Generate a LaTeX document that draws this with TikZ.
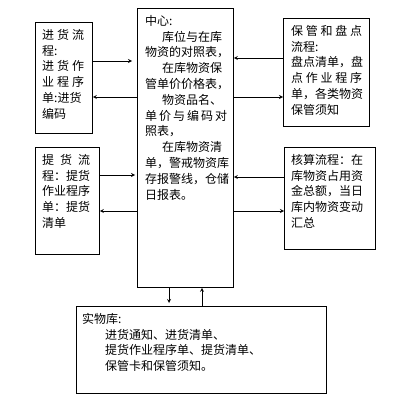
\documentclass[tikz,border=0pt]{standalone}
\usepackage{fontspec}
\setmainfont{Noto Sans CJK SC}
\newcommand{\spreadto}[2]{\makebox[#1][s]{#2}}
\tikzset{
    kuang/.style={draw, line width=0.8pt, inner sep=0pt, anchor=north west},
    wenzi/.style={anchor=north west, inner sep=0pt, align=left,
        font=\fontsize{12pt}{15.8pt}\selectfont},
    jt/.style={->, >=stealth, line width=0.8pt}
}
\begin{document}
\begin{tikzpicture}[x=1pt, y=-1pt]
    \useasboundingbox (0,0) rectangle (400,401);
    \node[kuang, minimum width=57pt, minimum height=111pt] (jinhuo) at (35,22) {};
    \node[kuang, minimum width=96pt, minimum height=279pt] (zhongxin) at (137,8) {};
    \node[kuang, minimum width=86pt, minimum height=108pt] (baoguan) at (283,18) {};
    \node[kuang, minimum width=64pt, minimum height=107pt] (tihuo) at (35,147) {};
    \node[kuang, minimum width=91pt, minimum height=102pt] (hesuan) at (284,147) {};
    \node[kuang, minimum width=250pt, minimum height=87pt] (shiwu) at (76,306) {};

    \node[wenzi] (jinhuo-t) at ([shift={(7,7)}]jinhuo.north west)
        {\spreadto{42pt}{进 货 流}\\程:\\\spreadto{42pt}{进 货 作}\\\spreadto{42pt}{业 程 序}\\单:进货\\编码};
    \node[wenzi] (zhongxin-t) at ([shift={(8,7)}]zhongxin.north west)
        {中心:\\\hspace*{17pt}库位与在库\\物资的对照表，\\\hspace*{17pt}在库物资保\\管单价价格表，\\\hspace*{17pt}物资品名、\\\spreadto{82pt}{单 价 与 编 码 对}\\照表，\\\hspace*{17pt}在库物资清\\单，警戒物资库\\存报警线，仓储\\日报表。};
    \node[wenzi] (baoguan-t) at ([shift={(8,7)}]baoguan.north west)
        {\spreadto{71pt}{保 管 和 盘 点}\\流程:\\盘点清单，盘\\\spreadto{71pt}{点 作 业 程 序}\\单，各类物资\\保管须知};
    \node[wenzi] (tihuo-t) at ([shift={(7,7)}]tihuo.north west)
        {\spreadto{48pt}{提 货 流}\\程：提货\\作业程序\\单：提货\\清单};
    \node[wenzi] (hesuan-t) at ([shift={(7,7)}]hesuan.north west)
        {核算流程：在\\库物资占用资\\金总额，当日\\库内物资变动\\汇总};
    \node[wenzi] (shiwu-t) at ([shift={(6,7)}]shiwu.north west)
        {实物库:\\\hspace*{23pt}进货通知、进货清单、\\\hspace*{23pt}提货作业程序单、提货清单、\\\hspace*{23pt}保管卡和保管须知。};

    \draw[jt, shorten >=5pt] (jinhuo.east |- 0,61) -- (zhongxin.west |- 0,61);
    \draw[jt] (zhongxin.west |- 0,97) -- (jinhuo.east |- 0,97);
    \draw[jt] (baoguan.west |- 0,58) -- (zhongxin.east |- 0,58);
    \draw[jt] (zhongxin.east |- 0,97) -- (baoguan.west |- 0,97);
    \draw[jt, shorten >=2pt] (tihuo.east |- 0,175) -- (zhongxin.west |- 0,175);
    \draw[jt] (zhongxin.west |- 0,211) -- (tihuo.east |- 0,211);
    \draw[jt] (hesuan.west |- 0,177) -- (zhongxin.east |- 0,177);
    \draw[jt] (zhongxin.east |- 0,211) -- (hesuan.west |- 0,211);
    \draw[jt, shorten >=3pt] (zhongxin.south -| 169,0) -- (shiwu.north -| 169,0);
    \draw[jt] (shiwu.north -| 202,0) -- (zhongxin.south -| 202,0);
\end{tikzpicture}
\end{document}
